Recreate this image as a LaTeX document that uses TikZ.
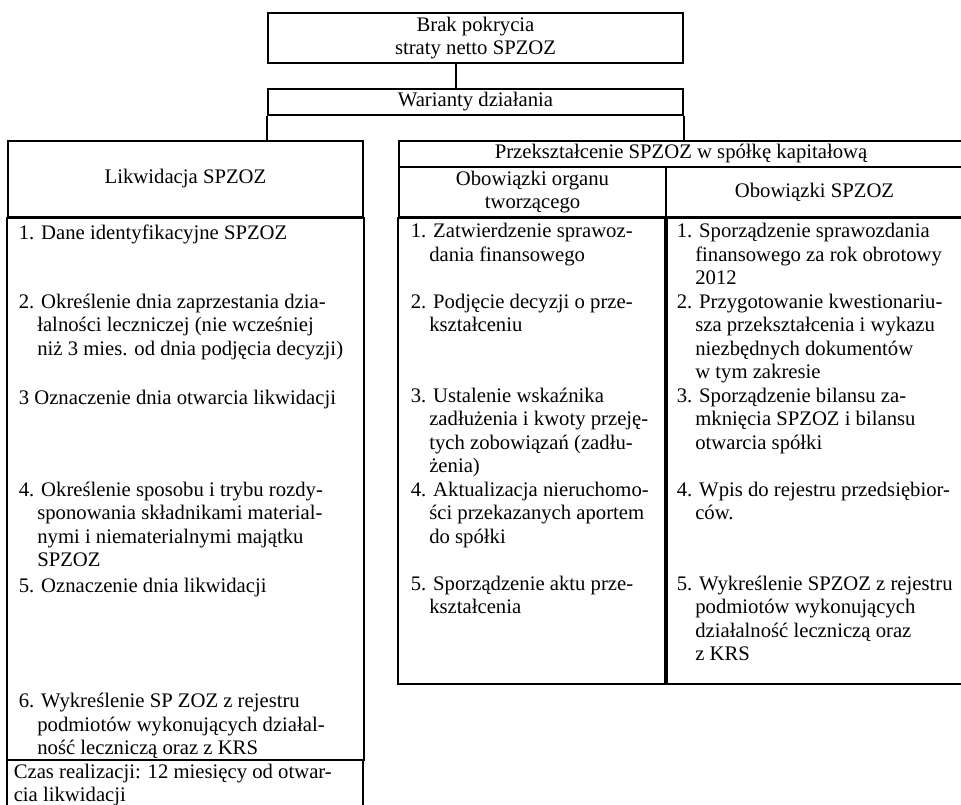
\documentclass[tikz,border=0pt]{standalone}
\usepackage{fontspec}
\setmainfont{Liberation Serif}
\newcommand{\nl}{\\\hspace*{18.5pt}}

\begin{document}
\begin{tikzpicture}[x=1pt,y=-1pt,
    font=\fontsize{20.7}{23.5}\selectfont,
    every path/.style={line width=1.6pt},
    box/.style={draw,inner sep=0pt,align=center},
    item/.style={anchor=north west,yshift=16.45pt,align=left,inner sep=0pt,
      execute at begin node=\strut}]
  \useasboundingbox (0,0) rectangle (961,805);

  \node[box,minimum width=415pt,minimum height=50pt] (brak) at (475.5,38) {Brak pokrycia\\straty netto SPZOZ};
  \node[box,minimum width=415pt,minimum height=26pt] (war) at (475.5,102) {Warianty działania};
  \node[box,minimum width=355pt,minimum height=76pt] (lik) at (185.5,179) {Likwidacja SPZOZ};
  \node[box,minimum width=564pt,minimum height=26pt] (prz) at (681,154) {Przekształcenie SPZOZ w spółkę kapitałową};
  \node[box,minimum width=267pt,minimum height=50pt] (org) at (532.5,192) {Obowiązki organu\\tworzącego};
  \node[box,minimum width=297pt,minimum height=50pt] (obs) at (814.5,192) {Obowiązki SPZOZ};
  \coordinate (bot) at (0,684);
  \coordinate (sep) at (0,760);

  \draw (lik.south west) rectangle (lik.east |- sep);
  \draw (lik.west |- sep) rectangle (363,830);
  \draw (org.south west) rectangle (org.south east |- bot);
  \draw (obs.south west) rectangle (obs.south east |- bot);

  \draw ([xshift=-19.5pt]brak.south) -- ([xshift=-19.5pt]war.north);
  \foreach \a/\b in {war.south west/lik, war.south east/prz}
    \draw (\a) -- (\a |- \b.north);

  \node[item] (l1) at (18,239) {1. Dane identyfikacyjne SPZOZ};
  \node[item] (l2) at (18,309.5) {2. Określenie dnia zaprzestania dzia-\nl łalności leczniczej (nie wcześniej\nl niż 3 mies. od dnia podjęcia decyzji)};
  \node[item] (l3) at (18,403.5) {3 Oznaczenie dnia otwarcia likwidacji};
  \node[item] (l4) at (18,497.5) {4. Określenie sposobu i trybu rozdy-\nl sponowania składnikami material-\nl nymi i niematerialnymi majątku\nl SPZOZ};
  \node[item] (l5) at (18,591.5) {5. Oznaczenie dnia likwidacji};
  \node[item] (l6) at (18,709) {6. Wykreślenie SP ZOZ z rejestru\nl podmiotów wykonujących działal-\nl ność leczniczą oraz z KRS};
  \node[item] (czas) at (13,779.5) {Czas realizacji: 12 miesięcy od otwar-\\cia likwidacji};

  \node[item] (m1) at (410,239) {1. Zatwierdzenie sprawoz-\nl dania finansowego};
  \node[item] (m2) at (410,309.5) {2. Podjęcie decyzji o prze-\nl kształceniu};
  \node[item] (m3) at (410,403.5) {3. Ustalenie wskaźnika\nl zadłużenia i kwoty przeję-\nl tych zobowiązań (zadłu-\nl żenia)};
  \node[item] (m4) at (410,497.5) {4. Aktualizacja nieruchomo-\nl ści przekazanych aportem\nl do spółki};
  \node[item] (m5) at (410,591.5) {5. Sporządzenie aktu prze-\nl kształcenia};

  \node[item] (s1) at (676,239) {1. Sporządzenie sprawozdania\nl finansowego za rok obrotowy\nl 2012};
  \node[item] (s2) at (676,309.5) {2. Przygotowanie kwestionariu-\nl sza przekształcenia i wykazu\nl niezbędnych dokumentów\nl w tym zakresie};
  \node[item] (s3) at (676,403.5) {3. Sporządzenie bilansu za-\nl mknięcia SPZOZ i bilansu\nl otwarcia spółki};
  \node[item] (s4) at (676,497.5) {4. Wpis do rejestru przedsiębior-\nl ców.};
  \node[item] (s5) at (676,591.5) {5. Wykreślenie SPZOZ z rejestru\nl podmiotów wykonujących\nl działalność leczniczą oraz\nl z KRS};
\end{tikzpicture}
\end{document}
